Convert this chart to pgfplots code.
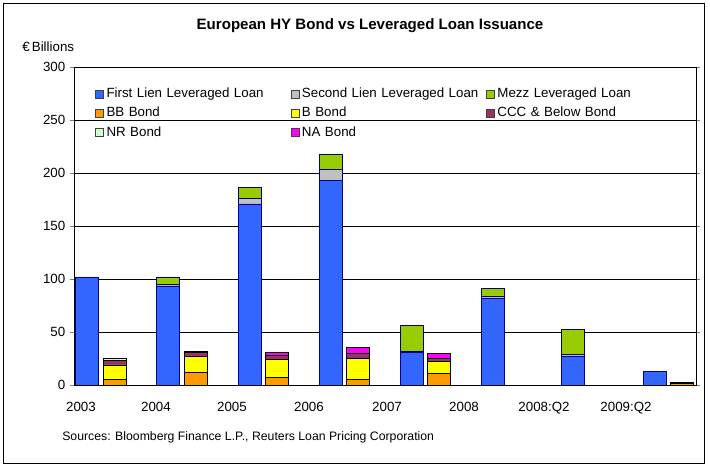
\documentclass[border=0pt]{standalone}
\usepackage{fontspec}
\setmainfont{Liberation Sans}
\usepackage{pgfplots}
\pgfplotsset{compat=1.18}

\definecolor{flblue}{HTML}{3366FF}
\definecolor{slgray}{HTML}{C0C0C0}
\definecolor{mezz}{HTML}{99CC00}
\definecolor{bbor}{HTML}{FF9900}
\definecolor{byel}{HTML}{FFFF00}
\definecolor{cccp}{HTML}{993366}
\definecolor{nrgr}{HTML}{CCFFCC}
\definecolor{namag}{HTML}{FF00FF}
\definecolor{loanedge}{HTML}{000080}

% positions are in pixels of the 710x470 reference (1px = 0.75pt)
\pgfplotsset{
  base/.style={
    at={(55.5pt,63.75pt)}, anchor=south west,
    scale only axis, width=466.5pt, height=238.5pt,
    xmin=74, xmax=696, ymin=0, ymax=300,
    ybar stacked, bar width=23,
    /pgf/number format/assume math mode=true,
    tick label style={font=\fontsize{10}{12}\selectfont},
  },
  loan/.style={draw=loanedge, line width=0.5pt},
  bond/.style={draw=black, line width=0.6pt},
}

\begin{document}
\begin{tikzpicture}[x=0.75pt,y=0.75pt]
\useasboundingbox (0,0) rectangle (710,470);
\draw[line width=0.75pt] (3,6) rectangle (704,466);
\node[font=\bfseries\fontsize{11.3}{13}\selectfont] at (370,444) {European HY Bond vs Leveraged Loan Issuance};
\node[anchor=west, font=\fontsize{10}{12}\selectfont, inner sep=0pt] at (22,423) {€\,Billions};
\node[anchor=west, font=\fontsize{9.2}{11}\selectfont, inner sep=0pt] at (62,33) {Sources: Bloomberg Finance L.P., Reuters Loan Pricing Corporation};

% leveraged loans
\begin{axis}[base,
  axis line style={line width=0.6pt},
  ymajorgrids, grid style={black, line width=0.5pt},
  ytick={0,50,...,300},
  tick align=outside, major tick length=3pt,
  xtick={81,156,232,309,387,464,544,626},
  xticklabels={2003,2004,2005,2006,2007,2008,2008:Q2,2009:Q2},
  xtick style={draw=none},
  xticklabel style={yshift=-6pt},
]
\addplot[loan, fill=flblue] coordinates {(87,101.5) (168,93.4) (250,170.8) (330.5,192.7) (411.5,30.5) (493,81.8) (573,27.0) (654.5,12.9)};
\addplot[loan, fill=slgray] coordinates {(87,0.5) (168,1.2) (250,5.6) (330.5,10.7) (411.5,0.8) (493,2.2) (573,1.9) (654.5,0)};
\addplot[loan, fill=mezz] coordinates {(87,0) (168,7.3) (250,9.7) (330.5,14.6) (411.5,25.0) (493,6.9) (573,23.6) (654.5,0)};
\end{axis}

% high-yield bonds, with the shared legend
\begin{axis}[base, hide axis,
  legend columns=3,
  legend cell align=left,
  legend style={at={(0.027,0.955)}, anchor=north west, draw=none, fill=none,
    font=\fontsize{10}{12}\selectfont, column sep=0pt, row sep=0pt,
    nodes={text height=7.5pt, text depth=2pt, inner ysep=2.5pt, text width=136pt, align=left}},
  legend image code/.code={\draw[#1, draw=darkgray, line width=0.6pt] (0pt,-3pt) rectangle (6pt,3pt);},
]
\addlegendimage{fill=flblue}
\addlegendentry{First Lien Leveraged Loan}
\addlegendimage{fill=slgray}
\addlegendentry{Second Lien Leveraged Loan}
\addlegendimage{fill=mezz}
\addlegendentry{Mezz Leveraged Loan}
\addplot[bond, fill=bbor] coordinates {(114.5,5.5) (195.5,12.0) (276.5,7.5) (357.5,5.7) (438.5,11.0) (681.5,1.5)};
\addlegendentry{BB Bond}
\addplot[bond, fill=byel] coordinates {(114.5,13.4) (195.5,15.1) (276.5,16.3) (357.5,19.4) (438.5,11.0) (681.5,0)};
\addlegendentry{B Bond}
\addplot[bond, fill=cccp] coordinates {(114.5,3.9) (195.5,3.8) (276.5,4.4) (357.5,4.7) (438.5,3.2) (681.5,1.0)};
\addlegendentry{CCC \& Below Bond}
\addplot[bond, fill=nrgr] coordinates {(114.5,2.0) (195.5,0.8) (276.5,0) (357.5,0) (438.5,0) (681.5,0)};
\addlegendentry{NR Bond}
\addplot[bond, fill=namag] coordinates {(114.5,0) (195.5,0) (276.5,2.5) (357.5,5.7) (438.5,4.7) (681.5,0)};
\addlegendentry{NA Bond}
\end{axis}
\end{tikzpicture}
\end{document}
